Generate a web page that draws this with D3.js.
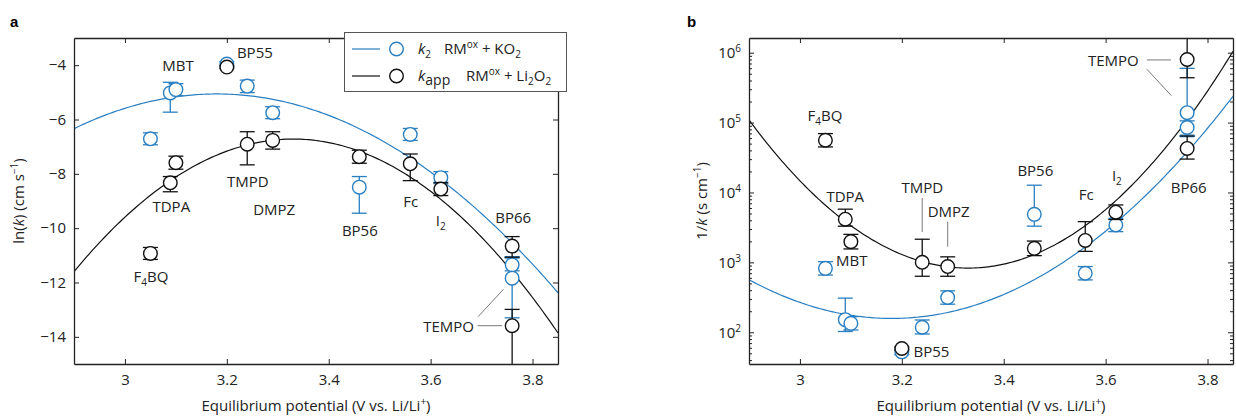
<!DOCTYPE html>
<html>
<head>
<meta charset="utf-8">
<script src="https://cdn.jsdelivr.net/npm/d3@7"></script>
<style>
  body { margin: 0; background: #fff; }
  svg { font-family: "Open Sans", sans-serif; }
  .axis path, .axis line { stroke: #222; }
  .axis text { fill: #222; font-size: 15px; font-family: "Open Sans", sans-serif; }
</style>
</head>
<body>
<script>
// data (ln k in cm s^-1)
const compounds = ["F4BQ", "TDPA", "MBT", "BP55", "TMPD", "DMPZ", "BP56", "Fc", "I2", "BP66", "TEMPO"];
const potential = [3.05, 3.089, 3.10, 3.20, 3.24, 3.29, 3.46, 3.56, 3.62, 3.76, 3.76];

const lnK2   = [-6.71, -5.02, -4.90, -3.96, -4.77, -5.75, -8.49, -6.55, -8.14, -11.35, -11.84];
const lnK2Lo = [-6.93, -5.73, -5.12, -4.05, -5.01, -5.97, -9.45, -6.77, -8.36, -11.57, -13.30];
const lnK2Hi = [-6.49, -4.63, -4.68, -3.87, -4.55, -5.53, -8.10, -6.33, -7.92, -11.10, -11.05];

const lnKapp   = [-10.93, -8.33, -7.59, -4.07, -6.91, -6.77, -7.37, -7.63, -8.56, -10.66, -13.59];
const lnKappLo = [-11.15, -8.66, -7.83, -4.12, -7.67, -7.09, -7.61, -8.25, -8.80, -11.07, -17.0];
const lnKappHi = [-10.71, -8.10, -7.35, -4.02, -6.45, -6.45, -7.13, -7.27, -8.32, -10.31, -12.99];

// quadratic (Marcus) fits: [a, E0, lnk at E0]
const fitK2 = [-16.3, 3.18, -5.06];
const fitKapp = [-26.4, 3.33, -6.72];

const xTicks = [3, 3.2, 3.4, 3.6, 3.8];
const lnTicks = [-4, -6, -8, -10, -12, -14];
const logTicks = [1e2, 1e3, 1e4, 1e5, 1e6];

const blue = "#2a7fc1";
const black = "#111";
const FS = 15;

const W = 1236, H = 419;
const svg = d3.select("body").append("svg").attr("width", W).attr("height", H);

function fitPoints(c) {
  const pts = [];
  for (let v = 2.9; v <= 3.8501; v += 0.005) pts.push([v, c[0] * (v - c[1]) ** 2 + c[2]]);
  return pts;
}

function panel(opt) {
  const g = svg.append("g");
  const x = d3.scaleLinear().domain([2.9, 3.85]).range(opt.xr);
  const y = opt.y;
  const clipId = "clip" + opt.name;
  svg.append("clipPath").attr("id", clipId).append("rect")
    .attr("x", opt.xr[0]).attr("y", y.range()[1])
    .attr("width", opt.xr[1] - opt.xr[0]).attr("height", y.range()[0] - y.range()[1]);

  const tr = opt.tr; // ln k -> plotted value
  const plot = g.append("g").attr("clip-path", `url(#${clipId})`);

  // fit lines
  [[fitK2, blue], [fitKapp, black]].forEach(([c, col]) => {
    plot.append("path")
      .attr("d", d3.line().x(d => x(d[0])).y(d => y(tr(d[1])))(fitPoints(c)))
      .attr("fill", "none").attr("stroke", col).attr("stroke-width", 1.2);
  });

  function series(vals, lo, hi, col) {
    const data = compounds.map((c, i) => ({ x: potential[i], v: vals[i], lo: lo[i], hi: hi[i] }));
    const eg = plot.append("g").attr("stroke", col).attr("stroke-width", 1.3).attr("fill", "none");
    data.forEach(d => {
      const cx = x(d.x);
      const y1 = y(tr(d.lo)), y2 = y(tr(d.hi));
      eg.append("line").attr("x1", cx).attr("x2", cx).attr("y1", y1).attr("y2", y2);
      eg.append("line").attr("x1", cx - 7.5).attr("x2", cx + 7.5).attr("y1", y1).attr("y2", y1);
      eg.append("line").attr("x1", cx - 7.5).attr("x2", cx + 7.5).attr("y1", y2).attr("y2", y2);
    });
    plot.append("g").selectAll("circle").data(data).join("circle")
      .attr("cx", d => x(d.x)).attr("cy", d => y(tr(d.v))).attr("r", 6.8)
      .attr("fill", "#fff").attr("stroke", col).attr("stroke-width", 1.4);
  }
  series(lnK2, lnK2Lo, lnK2Hi, blue);
  series(lnKapp, lnKappLo, lnKappHi, black);

  // frame and axes (ticks inside)
  const x0 = opt.xr[0], x1 = opt.xr[1], yT = y.range()[1], yB = y.range()[0];
  g.append("g").attr("class", "axis").attr("transform", `translate(0,${yB})`)
    .call(d3.axisBottom(x).tickValues(xTicks).tickFormat(d3.format("")).tickSizeInner(-5).tickSizeOuter(0).tickPadding(10));
  g.append("g").attr("class", "axis").attr("transform", `translate(0,${yT})`)
    .call(d3.axisTop(x).tickValues(xTicks).tickFormat("").tickSizeInner(-5).tickSizeOuter(0));
  const yl = g.append("g").attr("class", "axis").attr("transform", `translate(${x0},0)`)
    .call(d3.axisLeft(y).tickValues(opt.yTicks).tickFormat(opt.yFmt).tickSizeInner(-5).tickSizeOuter(0).tickPadding(8));
  g.append("g").attr("class", "axis").attr("transform", `translate(${x1},0)`)
    .call(d3.axisRight(y).tickValues(opt.yTicks).tickFormat("").tickSizeInner(-5).tickSizeOuter(0));
  if (opt.minor) {
    g.append("g").attr("class", "axis").attr("transform", `translate(${x0},0)`)
      .call(d3.axisLeft(y).tickValues(opt.minor).tickFormat("").tickSizeInner(-3).tickSizeOuter(0))
      .select(".domain").remove();
    g.append("g").attr("class", "axis").attr("transform", `translate(${x1},0)`)
      .call(d3.axisRight(y).tickValues(opt.minor).tickFormat("").tickSizeInner(-3).tickSizeOuter(0))
      .select(".domain").remove();
  }
  if (opt.post) opt.post(yl);
  g.selectAll(".axis path.domain").attr("stroke-width", 1.3);

  // labels
  opt.labels.forEach(l => {
    const t = g.append("text").attr("x", x(l.x)).attr("y", y(l.y))
      .attr("text-anchor", l.anchor || "middle").attr("font-size", FS).attr("fill", "#222");
    if (l.text === "F4BQ") {
      t.append("tspan").text("F");
      t.append("tspan").attr("font-size", 10).attr("dy", 4).text("4");
      t.append("tspan").attr("dy", -4).text("BQ");
    } else if (l.text === "I2") {
      t.append("tspan").text("I");
      t.append("tspan").attr("font-size", 10).attr("dy", 4).text("2");
    } else t.text(l.text);
  });
  opt.leaders.forEach(s => {
    g.append("line").attr("x1", x(s[0])).attr("y1", y(s[1])).attr("x2", x(s[2])).attr("y2", y(s[3]))
      .attr("stroke", "#555").attr("stroke-width", 0.8);
  });

  // axis titles
  const xt = g.append("text").attr("x", (x0 + x1) / 2).attr("y", 411).attr("text-anchor", "middle")
    .attr("font-size", FS).attr("fill", "#222");
  xt.append("tspan").text("Equilibrium potential (V vs. Li/Li");
  xt.append("tspan").attr("font-size", 10).attr("dy", -6).text("+");
  xt.append("tspan").attr("dy", 6).text(")");

  const yt = g.append("text").attr("transform", `translate(${opt.yTitleX},${(yT + yB) / 2}) rotate(-90)`)
    .attr("text-anchor", "middle").attr("font-size", FS).attr("fill", "#222");
  opt.yTitle(yt);

  svg.append("text").attr("x", opt.letterX).attr("y", 27).attr("font-size", 15).attr("font-weight", "bold")
    .attr("font-family", "Liberation Sans, Arial, sans-serif").text(opt.name);
  return { x, y, g };
}

// ---- panel a ----
const a = panel({
  name: "a",
  xr: [74, 558],
  y: d3.scaleLinear().domain([-15, -3]).range([364, 38]),
  tr: v => v,
  yTicks: lnTicks,
  yFmt: d => "\u2212" + Math.abs(d),
  yTitleX: 24,
  letterX: 10,
  yTitle: t => {
    t.append("tspan").text("ln(");
    t.append("tspan").attr("font-style", "italic").text("k");
    t.append("tspan").text(") (cm s");
    t.append("tspan").attr("font-size", 10).attr("dy", -6).text("\u22121");
    t.append("tspan").attr("dy", 6).text(")");
  },
  labels: [
    { text: "MBT", x: 3.104, y: -4.21 },
    { text: "BP55", x: 3.255, y: -3.74 },
    { text: "TDPA", x: 3.091, y: -9.40 },
    { text: "DMPZ", x: 3.293, y: -9.51 },
    { text: "TMPD", x: 3.241, y: -8.48 },
    { text: "F4BQ", x: 3.051, y: -11.98 },
    { text: "BP56", x: 3.461, y: -10.29 },
    { text: "Fc", x: 3.561, y: -9.22 },
    { text: "I2", x: 3.62, y: -9.92 },
    { text: "BP66", x: 3.762, y: -9.81 },
    { text: "TEMPO", x: 3.685, y: -13.82, anchor: "end" }
  ],
  leaders: [
    [3.692, -13.59, 3.740, -13.59],
    [3.693, -13.26, 3.743, -12.25]
  ]
});

// legend (panel a)
const lg = svg.append("g");
lg.append("rect").attr("x", 344.5).attr("y", 32.5).attr("width", 222).attr("height", 59)
  .attr("fill", "#fff").attr("stroke", "#555").attr("stroke-width", 1);
[[blue, 49], [black, 76]].forEach(([col, yy]) => {
  lg.append("line").attr("x1", 352).attr("x2", 380).attr("y1", yy).attr("y2", yy).attr("stroke", col).attr("stroke-width", 1.2);
  lg.append("circle").attr("cx", 396.5).attr("cy", yy).attr("r", 6.8).attr("fill", "#fff").attr("stroke", col).attr("stroke-width", 1.4);
});
const l1 = lg.append("text").attr("x", 418).attr("y", 54).attr("font-size", FS).attr("fill", "#222");
l1.append("tspan").attr("font-style", "italic").text("k");
l1.append("tspan").attr("font-size", 10).attr("dy", 4).text("2");
l1.append("tspan").attr("dy", -4).attr("x", 444).text("RM");
l1.append("tspan").attr("font-size", 10).attr("dy", -6).text("ox");
l1.append("tspan").attr("dy", 6).text(" + KO");
l1.append("tspan").attr("font-size", 10).attr("dy", 4).text("2");
const l2 = lg.append("text").attr("x", 418).attr("y", 81).attr("font-size", FS).attr("fill", "#222");
l2.append("tspan").attr("font-style", "italic").text("k");
l2.append("tspan").attr("font-size", 14).attr("dy", 4).text("app");
l2.append("tspan").attr("dy", -4).attr("x", 466).text("RM");
l2.append("tspan").attr("font-size", 10).attr("dy", -6).text("ox");
l2.append("tspan").attr("dy", 6).text(" + Li");
l2.append("tspan").attr("font-size", 10).attr("dy", 4).text("2");
l2.append("tspan").attr("dy", -4).text("O");
l2.append("tspan").attr("font-size", 10).attr("dy", 4).text("2");

// ---- panel b ----
const minorB = [];
for (let e = 1; e <= 6; e++) for (let m = 2; m <= 9; m++) {
  const v = m * 10 ** e;
  if (v > 35.2 && v < 1.62e6) minorB.push(v);
}
const b = panel({
  name: "b",
  xr: [749, 1233],
  y: d3.scaleLog().domain([10 ** 1.546, 10 ** 6.21]).range([364, 38]),
  tr: v => Math.exp(-v),
  yTicks: logTicks,
  yFmt: "",
  minor: minorB,
  yTitleX: 707,
  letterX: 687,
  post: yl => {
    yl.selectAll(".tick text").each(function (d) {
      const t = d3.select(this);
      t.append("tspan").text("10");
      t.append("tspan").attr("font-size", 10).attr("dy", -6).text(Math.round(Math.log10(d)));
    });
  },
  yTitle: t => {
    t.append("tspan").text("1/");
    t.append("tspan").attr("font-style", "italic").text("k");
    t.append("tspan").text(" (s cm");
    t.append("tspan").attr("font-size", 10).attr("dy", -6).text("\u22121");
    t.append("tspan").attr("dy", 6).text(")");
  },
  labels: [
    { text: "F4BQ", x: 3.049, y: 10 ** 5.023 },
    { text: "TDPA", x: 3.089, y: 10 ** 3.864 },
    { text: "TMPD", x: 3.240, y: 10 ** 3.993 },
    { text: "DMPZ", x: 3.292, y: 10 ** 3.65 },
    { text: "MBT", x: 3.071, y: 10 ** 2.948, anchor: "start" },
    { text: "BP55", x: 3.223, y: 10 ** 1.647, anchor: "start" },
    { text: "BP56", x: 3.462, y: 10 ** 4.236 },
    { text: "Fc", x: 3.562, y: 10 ** 3.893 },
    { text: "I2", x: 3.622, y: 10 ** 4.165 },
    { text: "BP66", x: 3.763, y: 10 ** 3.993 },
    { text: "TEMPO", x: 3.665, y: 10 ** 5.81, anchor: "end" }
  ],
  leaders: [
    [3.240, 10 ** 3.921, 3.240, 10 ** 3.435],
    [3.290, 10 ** 3.582, 3.290, 10 ** 3.225],
    [3.681, 10 ** 5.896, 3.728, 10 ** 5.896],
    [3.681, 10 ** 5.763, 3.729, 10 ** 5.385]
  ]
});
</script>
</body>
</html>
